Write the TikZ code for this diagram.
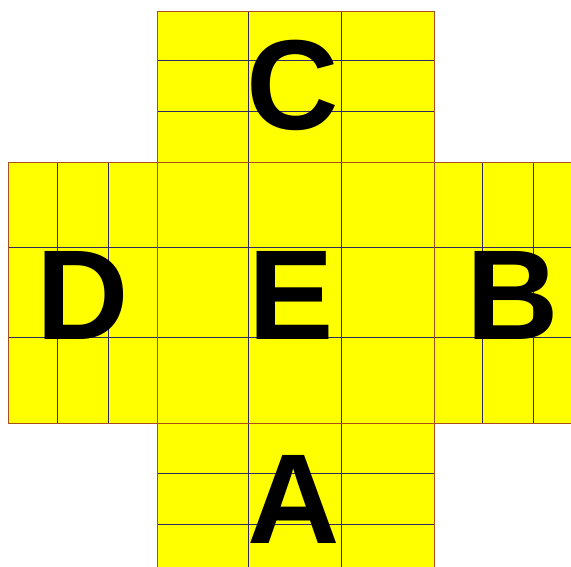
\documentclass[tikz,border=0pt]{standalone}
\usepackage{fontspec}
\setmainfont{Liberation Sans}
\definecolor{fillY}{RGB}{255,255,0}
\definecolor{inner}{RGB}{50,40,100}
\definecolor{outer}{RGB}{170,80,30}
\begin{document}
\begin{tikzpicture}[x=1pt,y=-1pt,
  gridline/.style={draw=inner,line width=0.9pt},
  edgeline/.style={draw=outer,line width=0.9pt},
  letter/.style={font=\fontsize{128}{128}\selectfont\bfseries,inner sep=0pt,anchor=base}]
\useasboundingbox (0,0) rectangle (571,567);
\begin{scope}
\clip (0,0) rectangle (571,567);
% fills
\fill[fillY] (157,11) rectangle (434,600);
\fill[fillY] (8,162) rectangle (600,423);
% inner grid lines
\draw[gridline] (157,60) -- (434,60);
\draw[gridline] (157,111) -- (434,111);
\draw[gridline] (157,473) -- (434,473);
\draw[gridline] (157,524) -- (434,524);
\draw[gridline] (248,11) -- (248,600);
\draw[gridline] (341,11) -- (341,600);
\draw[gridline] (8,247) -- (600,247);
\draw[gridline] (8,337) -- (600,337);
\draw[gridline] (57,162) -- (57,423);
\draw[gridline] (108,162) -- (108,423);
\draw[gridline] (482,162) -- (482,423);
\draw[gridline] (533,162) -- (533,423);
% outline and section borders
\draw[edgeline] (157,600) -- (157,11) -- (434,11) -- (434,600);
\draw[edgeline] (600,162) -- (8,162) -- (8,423) -- (600,423);
\end{scope}
\node[letter] (C) at (293,130) {C};
\node[letter] (D) at (83,339) {D};
\node[letter] (E) at (291,339) {E};
\node[letter] (B) at (513,339) {B};
\node[letter] (A) at (294,543) {A};
\end{tikzpicture}
\end{document}
